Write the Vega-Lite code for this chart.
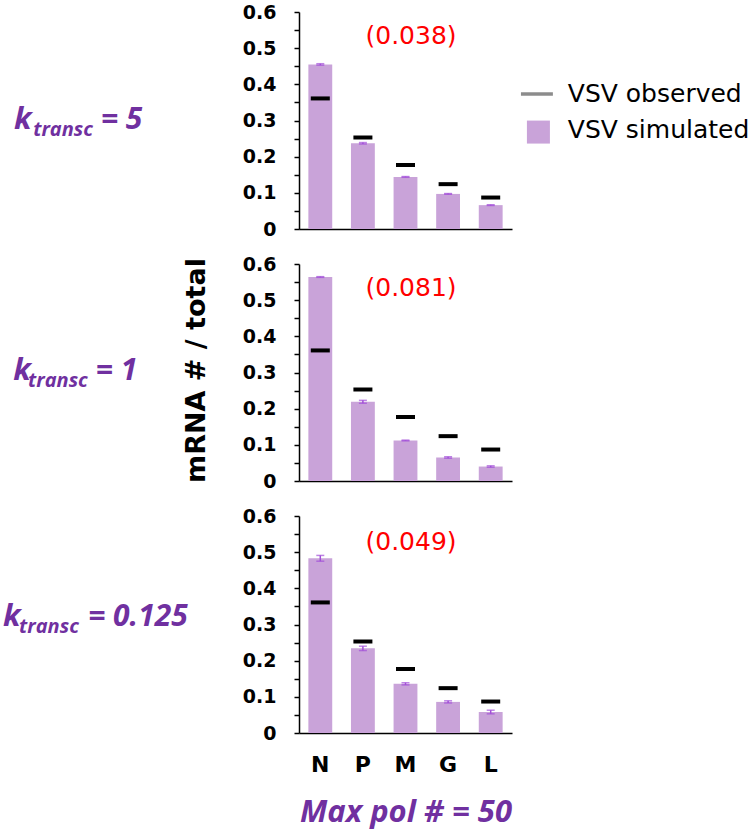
{
  "$schema": "https://vega.github.io/schema/vega-lite/v6.json",
  "padding": {"top": 3, "left": 2, "right": 0, "bottom": 5},
  "background": "white",
  "datasets": {
    "k5": [
      {"gene": "N", "sim": 0.455, "lo": 0.453, "hi": 0.457, "obs": 0.361},
      {"gene": "P", "sim": 0.237, "lo": 0.235, "hi": 0.239, "obs": 0.253},
      {"gene": "M", "sim": 0.144, "lo": 0.143, "hi": 0.145, "obs": 0.177},
      {"gene": "G", "sim": 0.097, "lo": 0.096, "hi": 0.098, "obs": 0.124},
      {"gene": "L", "sim": 0.066, "lo": 0.065, "hi": 0.067, "obs": 0.087}
    ],
    "k1": [
      {"gene": "N", "sim": 0.564, "lo": 0.563, "hi": 0.565, "obs": 0.361},
      {"gene": "P", "sim": 0.219, "lo": 0.215, "hi": 0.223, "obs": 0.253},
      {"gene": "M", "sim": 0.112, "lo": 0.111, "hi": 0.113, "obs": 0.177},
      {"gene": "G", "sim": 0.065, "lo": 0.063, "hi": 0.067, "obs": 0.124},
      {"gene": "L", "sim": 0.040, "lo": 0.038, "hi": 0.042, "obs": 0.087}
    ],
    "k0125": [
      {"gene": "N", "sim": 0.483, "lo": 0.475, "hi": 0.491, "obs": 0.361},
      {"gene": "P", "sim": 0.234, "lo": 0.228, "hi": 0.240, "obs": 0.253},
      {"gene": "M", "sim": 0.136, "lo": 0.133, "hi": 0.139, "obs": 0.177},
      {"gene": "G", "sim": 0.086, "lo": 0.083, "hi": 0.089, "obs": 0.124},
      {"gene": "L", "sim": 0.058, "lo": 0.053, "hi": 0.063, "obs": 0.087}
    ]
  },
  "spacing": 35,
  "bounds": "flush",
  "vconcat": [
    {
      "width": 213,
      "height": 217,
      "layer": [
        {
          "data": {"name": "k5"},
          "encoding": {
            "x": {"field": "gene", "type": "nominal", "sort": ["N", "P", "M", "G", "L"],
              "scale": {"paddingInner": 0.44, "paddingOuter": 0.22},
              "axis": {"labels": false, "title": null}}
          },
          "layer": [
            {"mark": {"type": "bar", "color": "#c9a3d9"},
              "encoding": {"y": {"field": "sim", "type": "quantitative", "scale": {"domain": [0, 0.6], "nice": false},
                "axis": {"title": null, "labelOverlap": false, "values": [0, 0.05, 0.1, 0.15, 0.2, 0.25, 0.3, 0.35, 0.4, 0.45, 0.5, 0.55, 0.6], "labelExpr": "round(datum.value*100) % 10 == 0 ? format(datum.value, '.1~f') : ''"}}}},
            {"mark": {"type": "errorbar", "ticks": {"size": 8}, "color": "#a24fd8", "thickness": 1.5},
              "encoding": {"y": {"field": "lo", "type": "quantitative", "scale": {"domain": [0, 0.6]},
                "axis": {"title": null, "labelOverlap": false, "values": [0, 0.05, 0.1, 0.15, 0.2, 0.25, 0.3, 0.35, 0.4, 0.45, 0.5, 0.55, 0.6], "labelExpr": "round(datum.value*100) % 10 == 0 ? format(datum.value, '.1~f') : ''"}}, "y2": {"field": "hi"}}},
            {"mark": {"type": "tick", "orient": "horizontal", "size": 19, "thickness": 4, "color": "black", "opacity": 1},
              "encoding": {"y": {"field": "obs", "type": "quantitative", "scale": {"domain": [0, 0.6]},
                "axis": {"title": null, "labelOverlap": false, "values": [0, 0.05, 0.1, 0.15, 0.2, 0.25, 0.3, 0.35, 0.4, 0.45, 0.5, 0.55, 0.6], "labelExpr": "round(datum.value*100) % 10 == 0 ? format(datum.value, '.1~f') : ''"}}}}
          ]
        },
        {
          "data": {"values": [{}]},
          "layer": [
            {"mark": {"type": "text", "text": "(0.038)", "font": "DejaVu Sans", "fontSize": 25, "color": "#ff0000", "align": "center", "baseline": "alphabetic"},
              "encoding": {"x": {"datum": 2.63, "type": "quantitative", "scale": {"domain": [0, 5], "nice": false, "zero": false}, "axis": null},
                "y": {"datum": 0.512, "type": "quantitative", "scale": {"domain": [0, 0.6]},
                  "axis": {"title": null, "labelOverlap": false, "values": [0, 0.05, 0.1, 0.15, 0.2, 0.25, 0.3, 0.35, 0.4, 0.45, 0.5, 0.55, 0.6], "labelExpr": "round(datum.value*100) % 10 == 0 ? format(datum.value, '.1~f') : ''"}}}},
            {"mark": {"type": "text", "text": "k", "font": "Open Sans", "fontStyle": "italic", "fontWeight": "bold", "fontSize": 31, "color": "#7030a0", "align": "left", "baseline": "alphabetic"},
              "encoding": {"x": {"datum": -6.69, "type": "quantitative", "scale": {"domain": [0, 5], "nice": false, "zero": false}, "axis": null},
                "y": {"datum": 0.276, "type": "quantitative", "scale": {"domain": [0, 0.6]},
                  "axis": {"title": null, "labelOverlap": false, "values": [0, 0.05, 0.1, 0.15, 0.2, 0.25, 0.3, 0.35, 0.4, 0.45, 0.5, 0.55, 0.6], "labelExpr": "round(datum.value*100) % 10 == 0 ? format(datum.value, '.1~f') : ''"}}}},
            {"mark": {"type": "text", "text": "transc", "font": "Open Sans", "fontStyle": "italic", "fontWeight": "bold", "fontSize": 20, "color": "#7030a0", "align": "left", "baseline": "alphabetic"},
              "encoding": {"x": {"datum": -6.24, "type": "quantitative", "scale": {"domain": [0, 5], "nice": false, "zero": false}, "axis": null},
                "y": {"datum": 0.257, "type": "quantitative", "scale": {"domain": [0, 0.6]},
                  "axis": {"title": null, "labelOverlap": false, "values": [0, 0.05, 0.1, 0.15, 0.2, 0.25, 0.3, 0.35, 0.4, 0.45, 0.5, 0.55, 0.6], "labelExpr": "round(datum.value*100) % 10 == 0 ? format(datum.value, '.1~f') : ''"}}}},
            {"mark": {"type": "text", "text": "= 5", "font": "Open Sans", "fontStyle": "italic", "fontWeight": "bold", "fontSize": 30, "color": "#7030a0", "align": "left", "baseline": "alphabetic"},
              "encoding": {"x": {"datum": -4.65, "type": "quantitative", "scale": {"domain": [0, 5], "nice": false, "zero": false}, "axis": null},
                "y": {"datum": 0.276, "type": "quantitative", "scale": {"domain": [0, 0.6]},
                  "axis": {"title": null, "labelOverlap": false, "values": [0, 0.05, 0.1, 0.15, 0.2, 0.25, 0.3, 0.35, 0.4, 0.45, 0.5, 0.55, 0.6], "labelExpr": "round(datum.value*100) % 10 == 0 ? format(datum.value, '.1~f') : ''"}}}},
            {"mark": {"type": "rule", "color": "#8c8c8c", "strokeWidth": 3.5},
              "encoding": {"x": {"datum": 5.21, "type": "quantitative", "scale": {"domain": [0, 5], "nice": false, "zero": false}, "axis": null},
                "x2": {"datum": 5.96},
                "y": {"datum": 0.373, "type": "quantitative", "scale": {"domain": [0, 0.6]},
                  "axis": {"title": null, "labelOverlap": false, "values": [0, 0.05, 0.1, 0.15, 0.2, 0.25, 0.3, 0.35, 0.4, 0.45, 0.5, 0.55, 0.6], "labelExpr": "round(datum.value*100) % 10 == 0 ? format(datum.value, '.1~f') : ''"}}}},
            {"mark": {"type": "square", "color": "#c9a3d9", "size": 529, "opacity": 1},
              "encoding": {"x": {"datum": 5.62, "type": "quantitative", "scale": {"domain": [0, 5], "nice": false, "zero": false}, "axis": null},
                "y": {"datum": 0.268, "type": "quantitative", "scale": {"domain": [0, 0.6]},
                  "axis": {"title": null, "labelOverlap": false, "values": [0, 0.05, 0.1, 0.15, 0.2, 0.25, 0.3, 0.35, 0.4, 0.45, 0.5, 0.55, 0.6], "labelExpr": "round(datum.value*100) % 10 == 0 ? format(datum.value, '.1~f') : ''"}}}},
            {"mark": {"type": "text", "text": "VSV observed", "font": "DejaVu Sans", "fontSize": 25, "color": "black", "align": "left", "baseline": "middle"},
              "encoding": {"x": {"datum": 6.31, "type": "quantitative", "scale": {"domain": [0, 5], "nice": false, "zero": false}, "axis": null},
                "y": {"datum": 0.372, "type": "quantitative", "scale": {"domain": [0, 0.6]},
                  "axis": {"title": null, "labelOverlap": false, "values": [0, 0.05, 0.1, 0.15, 0.2, 0.25, 0.3, 0.35, 0.4, 0.45, 0.5, 0.55, 0.6], "labelExpr": "round(datum.value*100) % 10 == 0 ? format(datum.value, '.1~f') : ''"}}}},
            {"mark": {"type": "text", "text": "VSV simulated", "font": "DejaVu Sans", "fontSize": 25, "color": "black", "align": "left", "baseline": "middle"},
              "encoding": {"x": {"datum": 6.31, "type": "quantitative", "scale": {"domain": [0, 5], "nice": false, "zero": false}, "axis": null},
                "y": {"datum": 0.2735, "type": "quantitative", "scale": {"domain": [0, 0.6]},
                  "axis": {"title": null, "labelOverlap": false, "values": [0, 0.05, 0.1, 0.15, 0.2, 0.25, 0.3, 0.35, 0.4, 0.45, 0.5, 0.55, 0.6], "labelExpr": "round(datum.value*100) % 10 == 0 ? format(datum.value, '.1~f') : ''"}}}}
          ]
        }
      ],
      "resolve": {"scale": {"x": "independent"}}
    },
    {
      "width": 213,
      "height": 217,
      "layer": [
        {
          "data": {"name": "k1"},
          "encoding": {
            "x": {"field": "gene", "type": "nominal", "sort": ["N", "P", "M", "G", "L"],
              "scale": {"paddingInner": 0.44, "paddingOuter": 0.22},
              "axis": {"labels": false, "title": null}}
          },
          "layer": [
            {"mark": {"type": "bar", "color": "#c9a3d9"},
              "encoding": {"y": {"field": "sim", "type": "quantitative", "scale": {"domain": [0, 0.6], "nice": false},
                "axis": {"title": "mRNA # / total", "titleX": -95, "titleY": 106, "titleBaseline": "alphabetic", "titleAngle": -90, "labelOverlap": false, "values": [0, 0.05, 0.1, 0.15, 0.2, 0.25, 0.3, 0.35, 0.4, 0.45, 0.5, 0.55, 0.6], "labelExpr": "round(datum.value*100) % 10 == 0 ? format(datum.value, '.1~f') : ''"}}}},
            {"mark": {"type": "errorbar", "ticks": {"size": 8}, "color": "#a24fd8", "thickness": 1.5},
              "encoding": {"y": {"field": "lo", "type": "quantitative", "scale": {"domain": [0, 0.6]},
                "axis": {"title": "mRNA # / total", "titleX": -95, "titleY": 106, "titleBaseline": "alphabetic", "titleAngle": -90, "labelOverlap": false, "values": [0, 0.05, 0.1, 0.15, 0.2, 0.25, 0.3, 0.35, 0.4, 0.45, 0.5, 0.55, 0.6], "labelExpr": "round(datum.value*100) % 10 == 0 ? format(datum.value, '.1~f') : ''"}}, "y2": {"field": "hi"}}},
            {"mark": {"type": "tick", "orient": "horizontal", "size": 19, "thickness": 4, "color": "black", "opacity": 1},
              "encoding": {"y": {"field": "obs", "type": "quantitative", "scale": {"domain": [0, 0.6]},
                "axis": {"title": "mRNA # / total", "titleX": -95, "titleY": 106, "titleBaseline": "alphabetic", "titleAngle": -90, "labelOverlap": false, "values": [0, 0.05, 0.1, 0.15, 0.2, 0.25, 0.3, 0.35, 0.4, 0.45, 0.5, 0.55, 0.6], "labelExpr": "round(datum.value*100) % 10 == 0 ? format(datum.value, '.1~f') : ''"}}}}
          ]
        },
        {
          "data": {"values": [{}]},
          "layer": [
            {"mark": {"type": "text", "text": "(0.081)", "font": "DejaVu Sans", "fontSize": 25, "color": "#ff0000", "align": "center", "baseline": "alphabetic"},
              "encoding": {"x": {"datum": 2.63, "type": "quantitative", "scale": {"domain": [0, 5], "nice": false, "zero": false}, "axis": null},
                "y": {"datum": 0.512, "type": "quantitative", "scale": {"domain": [0, 0.6]},
                  "axis": {"title": "mRNA # / total", "titleX": -95, "titleY": 106, "titleBaseline": "alphabetic", "titleAngle": -90, "labelOverlap": false, "values": [0, 0.05, 0.1, 0.15, 0.2, 0.25, 0.3, 0.35, 0.4, 0.45, 0.5, 0.55, 0.6], "labelExpr": "round(datum.value*100) % 10 == 0 ? format(datum.value, '.1~f') : ''"}}}},
            {"mark": {"type": "text", "text": "k", "font": "Open Sans", "fontStyle": "italic", "fontWeight": "bold", "fontSize": 31, "color": "#7030a0", "align": "left", "baseline": "alphabetic"},
              "encoding": {"x": {"datum": -6.71, "type": "quantitative", "scale": {"domain": [0, 5], "nice": false, "zero": false}, "axis": null},
                "y": {"datum": 0.279, "type": "quantitative", "scale": {"domain": [0, 0.6]},
                  "axis": {"title": "mRNA # / total", "titleX": -95, "titleY": 106, "titleBaseline": "alphabetic", "titleAngle": -90, "labelOverlap": false, "values": [0, 0.05, 0.1, 0.15, 0.2, 0.25, 0.3, 0.35, 0.4, 0.45, 0.5, 0.55, 0.6], "labelExpr": "round(datum.value*100) % 10 == 0 ? format(datum.value, '.1~f') : ''"}}}},
            {"mark": {"type": "text", "text": "transc", "font": "Open Sans", "fontStyle": "italic", "fontWeight": "bold", "fontSize": 20, "color": "#7030a0", "align": "left", "baseline": "alphabetic"},
              "encoding": {"x": {"datum": -6.36, "type": "quantitative", "scale": {"domain": [0, 5], "nice": false, "zero": false}, "axis": null},
                "y": {"datum": 0.26, "type": "quantitative", "scale": {"domain": [0, 0.6]},
                  "axis": {"title": "mRNA # / total", "titleX": -95, "titleY": 106, "titleBaseline": "alphabetic", "titleAngle": -90, "labelOverlap": false, "values": [0, 0.05, 0.1, 0.15, 0.2, 0.25, 0.3, 0.35, 0.4, 0.45, 0.5, 0.55, 0.6], "labelExpr": "round(datum.value*100) % 10 == 0 ? format(datum.value, '.1~f') : ''"}}}},
            {"mark": {"type": "text", "text": "= 1", "font": "Open Sans", "fontStyle": "italic", "fontWeight": "bold", "fontSize": 30, "color": "#7030a0", "align": "left", "baseline": "alphabetic"},
              "encoding": {"x": {"datum": -4.77, "type": "quantitative", "scale": {"domain": [0, 5], "nice": false, "zero": false}, "axis": null},
                "y": {"datum": 0.279, "type": "quantitative", "scale": {"domain": [0, 0.6]},
                  "axis": {"title": "mRNA # / total", "titleX": -95, "titleY": 106, "titleBaseline": "alphabetic", "titleAngle": -90, "labelOverlap": false, "values": [0, 0.05, 0.1, 0.15, 0.2, 0.25, 0.3, 0.35, 0.4, 0.45, 0.5, 0.55, 0.6], "labelExpr": "round(datum.value*100) % 10 == 0 ? format(datum.value, '.1~f') : ''"}}}}
          ]
        }
      ],
      "resolve": {"scale": {"x": "independent"}}
    },
    {
      "width": 213,
      "height": 217,
      "layer": [
        {
          "data": {"name": "k0125"},
          "encoding": {
            "x": {"field": "gene", "type": "nominal", "sort": ["N", "P", "M", "G", "L"],
              "scale": {"paddingInner": 0.44, "paddingOuter": 0.22},
              "axis": {"labelAngle": 0, "title": "Max pol # = 50", "titleFont": "Open Sans", "titleFontStyle": "italic", "titleFontWeight": "bold",
                "titleFontSize": 31, "titleColor": "#7030a0", "titleY": 88, "titleBaseline": "alphabetic"}}
          },
          "layer": [
            {"mark": {"type": "bar", "color": "#c9a3d9"},
              "encoding": {"y": {"field": "sim", "type": "quantitative", "scale": {"domain": [0, 0.6], "nice": false},
                "axis": {"title": null, "labelOverlap": false, "values": [0, 0.05, 0.1, 0.15, 0.2, 0.25, 0.3, 0.35, 0.4, 0.45, 0.5, 0.55, 0.6], "labelExpr": "round(datum.value*100) % 10 == 0 ? format(datum.value, '.1~f') : ''"}}}},
            {"mark": {"type": "errorbar", "ticks": {"size": 8}, "color": "#a24fd8", "thickness": 1.5},
              "encoding": {"y": {"field": "lo", "type": "quantitative", "scale": {"domain": [0, 0.6]},
                "axis": {"title": null, "labelOverlap": false, "values": [0, 0.05, 0.1, 0.15, 0.2, 0.25, 0.3, 0.35, 0.4, 0.45, 0.5, 0.55, 0.6], "labelExpr": "round(datum.value*100) % 10 == 0 ? format(datum.value, '.1~f') : ''"}}, "y2": {"field": "hi"}}},
            {"mark": {"type": "tick", "orient": "horizontal", "size": 19, "thickness": 4, "color": "black", "opacity": 1},
              "encoding": {"y": {"field": "obs", "type": "quantitative", "scale": {"domain": [0, 0.6]},
                "axis": {"title": null, "labelOverlap": false, "values": [0, 0.05, 0.1, 0.15, 0.2, 0.25, 0.3, 0.35, 0.4, 0.45, 0.5, 0.55, 0.6], "labelExpr": "round(datum.value*100) % 10 == 0 ? format(datum.value, '.1~f') : ''"}}}}
          ]
        },
        {
          "data": {"values": [{}]},
          "layer": [
            {"mark": {"type": "text", "text": "(0.049)", "font": "DejaVu Sans", "fontSize": 25, "color": "#ff0000", "align": "center", "baseline": "alphabetic"},
              "encoding": {"x": {"datum": 2.63, "type": "quantitative", "scale": {"domain": [0, 5], "nice": false, "zero": false}, "axis": null},
                "y": {"datum": 0.506, "type": "quantitative", "scale": {"domain": [0, 0.6]},
                  "axis": {"title": null, "labelOverlap": false, "values": [0, 0.05, 0.1, 0.15, 0.2, 0.25, 0.3, 0.35, 0.4, 0.45, 0.5, 0.55, 0.6], "labelExpr": "round(datum.value*100) % 10 == 0 ? format(datum.value, '.1~f') : ''"}}}},
            {"mark": {"type": "text", "text": "k", "font": "Open Sans", "fontStyle": "italic", "fontWeight": "bold", "fontSize": 31, "color": "#7030a0", "align": "left", "baseline": "alphabetic"},
              "encoding": {"x": {"datum": -6.95, "type": "quantitative", "scale": {"domain": [0, 5], "nice": false, "zero": false}, "axis": null},
                "y": {"datum": 0.296, "type": "quantitative", "scale": {"domain": [0, 0.6]},
                  "axis": {"title": null, "labelOverlap": false, "values": [0, 0.05, 0.1, 0.15, 0.2, 0.25, 0.3, 0.35, 0.4, 0.45, 0.5, 0.55, 0.6], "labelExpr": "round(datum.value*100) % 10 == 0 ? format(datum.value, '.1~f') : ''"}}}},
            {"mark": {"type": "text", "text": "transc", "font": "Open Sans", "fontStyle": "italic", "fontWeight": "bold", "fontSize": 20, "color": "#7030a0", "align": "left", "baseline": "alphabetic"},
              "encoding": {"x": {"datum": -6.57, "type": "quantitative", "scale": {"domain": [0, 5], "nice": false, "zero": false}, "axis": null},
                "y": {"datum": 0.276, "type": "quantitative", "scale": {"domain": [0, 0.6]},
                  "axis": {"title": null, "labelOverlap": false, "values": [0, 0.05, 0.1, 0.15, 0.2, 0.25, 0.3, 0.35, 0.4, 0.45, 0.5, 0.55, 0.6], "labelExpr": "round(datum.value*100) % 10 == 0 ? format(datum.value, '.1~f') : ''"}}}},
            {"mark": {"type": "text", "text": "= 0.125", "font": "Open Sans", "fontStyle": "italic", "fontWeight": "bold", "fontSize": 30, "color": "#7030a0", "align": "left", "baseline": "alphabetic"},
              "encoding": {"x": {"datum": -4.95, "type": "quantitative", "scale": {"domain": [0, 5], "nice": false, "zero": false}, "axis": null},
                "y": {"datum": 0.296, "type": "quantitative", "scale": {"domain": [0, 0.6]},
                  "axis": {"title": null, "labelOverlap": false, "values": [0, 0.05, 0.1, 0.15, 0.2, 0.25, 0.3, 0.35, 0.4, 0.45, 0.5, 0.55, 0.6], "labelExpr": "round(datum.value*100) % 10 == 0 ? format(datum.value, '.1~f') : ''"}}}}
          ]
        }
      ],
      "resolve": {"scale": {"x": "independent"}}
    }
  ],
  "config": {
    "view": {"stroke": null},
    "axis": {
      "grid": false,
      "domainColor": "black",
      "domainWidth": 1.5,
      "tickColor": "black",
      "tickWidth": 1.5,
      "labelFont": "DejaVu Sans",
      "labelFontWeight": "bold",
      "labelColor": "black",
      "labelOverlap": false
    },
    "axisY": {"labelFontSize": 19, "labelPadding": 18, "tickSize": 5,
      "titleFont": "DejaVu Sans", "titleFontWeight": "bold", "titleFontSize": 27, "titleColor": "black"},
    "axisX": {"labelFontSize": 22, "ticks": false, "labelPadding": 21}
  }
}
